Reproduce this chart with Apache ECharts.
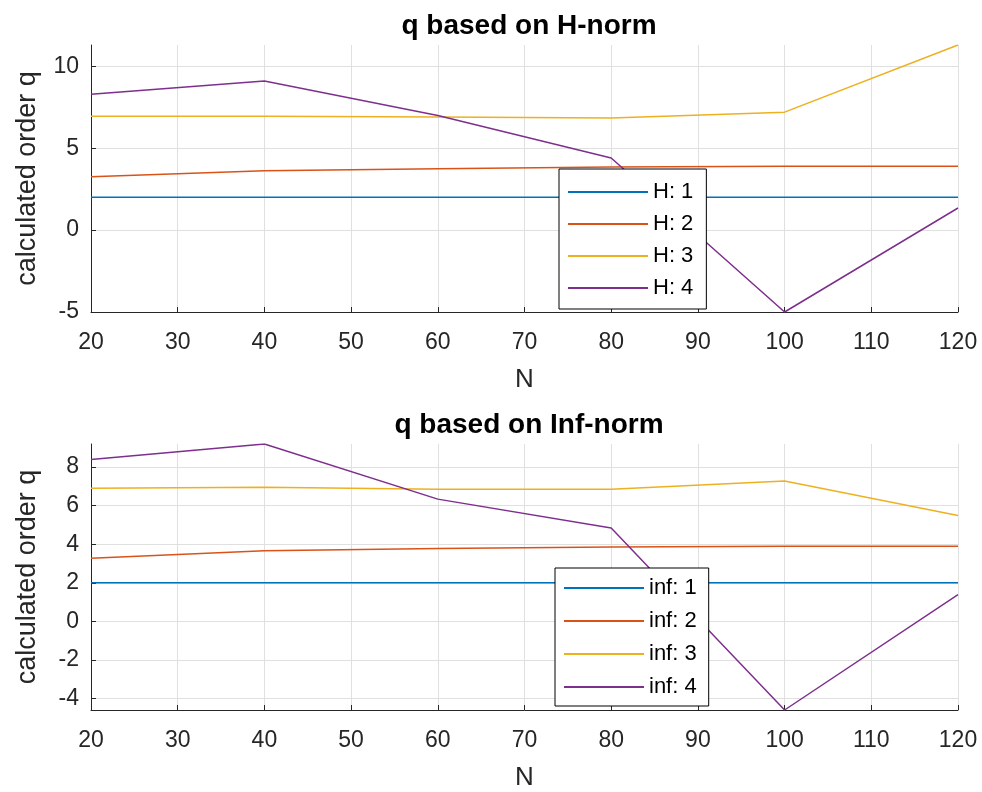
<!DOCTYPE html>
<html>
<head>
<meta charset="utf-8">
<script src="https://cdn.jsdelivr.net/npm/echarts@6/dist/echarts.min.js"></script>
<style>
  html, body { margin: 0; padding: 0; background: #fff; }
  #chart { width: 982px; height: 792px; }
</style>
</head>
<body>
<div id="chart"></div>
<script>
// N values shared by both subplots
var nValues = [20, 40, 60, 80, 100, 120];

// q based on H-norm
var h1 = [2.0, 2.0, 2.0, 2.0, 2.0, 2.0];
var h2 = [3.25, 3.62, 3.75, 3.85, 3.9, 3.9];
var h3 = [6.95, 6.95, 6.9, 6.85, 7.2, 11.3];
var h4 = [8.3, 9.1, 7.0, 4.4, -5.0, 1.35];

// q based on Inf-norm
var inf1 = [2.0, 2.0, 2.0, 2.0, 2.0, 2.0];
var inf2 = [3.27, 3.66, 3.78, 3.86, 3.9, 3.9];
var inf3 = [6.9, 6.95, 6.85, 6.85, 7.28, 5.49];
var inf4 = [8.39, 9.2, 6.34, 4.84, -4.6, 1.38];

var hNames = ['H: 1', 'H: 2', 'H: 3', 'H: 4'];
var infNames = ['inf: 1', 'inf: 2', 'inf: 3', 'inf: 4'];
var colors = ['#0072BD', '#D95319', '#EDB120', '#7E2F8E'];

var font = '"Liberation Sans", Arial, Helvetica, sans-serif';
var axisColor = '#262626';

function pairs(ys) {
  return ys.map(function (y, i) { return [nValues[i], y]; });
}

function xAxisFor(gridIndex) {
  return {
    gridIndex: gridIndex, type: 'value', min: 20, max: 120, interval: 10,
    name: 'N', nameLocation: 'middle', nameGap: 55,
    nameTextStyle: { fontFamily: font, fontSize: 26, color: axisColor },
    axisLine: { show: true, onZero: false, lineStyle: { color: axisColor, width: 1 } },
    axisTick: { show: true, inside: true, length: 5, lineStyle: { color: axisColor } },
    axisLabel: { fontFamily: font, fontSize: 23, color: axisColor, margin: 19 },
    splitLine: { show: true, lineStyle: { color: '#e0e0e0', width: 1 } }
  };
}

function yAxisFor(gridIndex, min, max, splitNumber, showMin) {
  return {
    gridIndex: gridIndex, type: 'value', min: min, max: max, splitNumber: splitNumber,
    name: 'calculated order q', nameLocation: 'middle', nameGap: 50,
    nameTextStyle: { fontFamily: font, fontSize: 27, color: axisColor },
    axisLine: { show: true, onZero: false, lineStyle: { color: axisColor, width: 1 } },
    axisTick: { show: true, inside: true, length: 5, lineStyle: { color: axisColor } },
    axisLabel: { fontFamily: font, fontSize: 23, color: axisColor, margin: 12,
      showMinLabel: showMin, showMaxLabel: false },
    splitLine: { show: true, showMaxLine: false, lineStyle: { color: '#e0e0e0', width: 1 } }
  };
}

function makeSeries(names, datas, axisIndex) {
  return names.map(function (name, i) {
    return {
      name: name, type: 'line', xAxisIndex: axisIndex, yAxisIndex: axisIndex,
      data: pairs(datas[i]), symbol: 'none', showSymbol: false,
      lineStyle: { color: colors[i], width: 1.5 }, itemStyle: { color: colors[i] },
      animation: false
    };
  });
}

function legendFor(names, left, top, padding, gap) {
  return {
    data: names, orient: 'vertical', left: left, top: top,
    backgroundColor: '#fff', borderColor: '#000', borderWidth: 1,
    padding: padding, itemWidth: 80, itemHeight: 22, itemGap: gap,
    itemStyle: { opacity: 0 },
    textStyle: { fontFamily: font, fontSize: 22, color: '#000' },
    selectedMode: false
  };
}

var chart = echarts.init(document.getElementById('chart'));
chart.setOption({
  backgroundColor: '#fff',
  animation: false,
  title: [
    { text: 'q based on H-norm', left: 524, top: 7, textAlign: 'center',
      textStyle: { fontFamily: font, fontSize: 28, fontWeight: 'bold', color: '#000' } },
    { text: 'q based on Inf-norm', left: 524, top: 406, textAlign: 'center',
      textStyle: { fontFamily: font, fontSize: 28, fontWeight: 'bold', color: '#000' } }
  ],
  grid: [
    { left: 91, right: 24, top: 45, height: 267 },
    { left: 91, right: 24, top: 444, height: 267 }
  ],
  xAxis: [xAxisFor(0), xAxisFor(1)],
  yAxis: [yAxisFor(0, -5, 11.3, 3, true), yAxisFor(1, -4.6, 9.2, 7, false)],
  legend: [
    legendFor(hNames, 559, 169, [12, 13, 10, 8], 10),
    legendFor(infNames, 555, 568, [9, 12, 8, 8], 11)
  ],
  series: makeSeries(hNames, [h1, h2, h3, h4], 0).concat(makeSeries(infNames, [inf1, inf2, inf3, inf4], 1))
});
</script>
</body>
</html>
